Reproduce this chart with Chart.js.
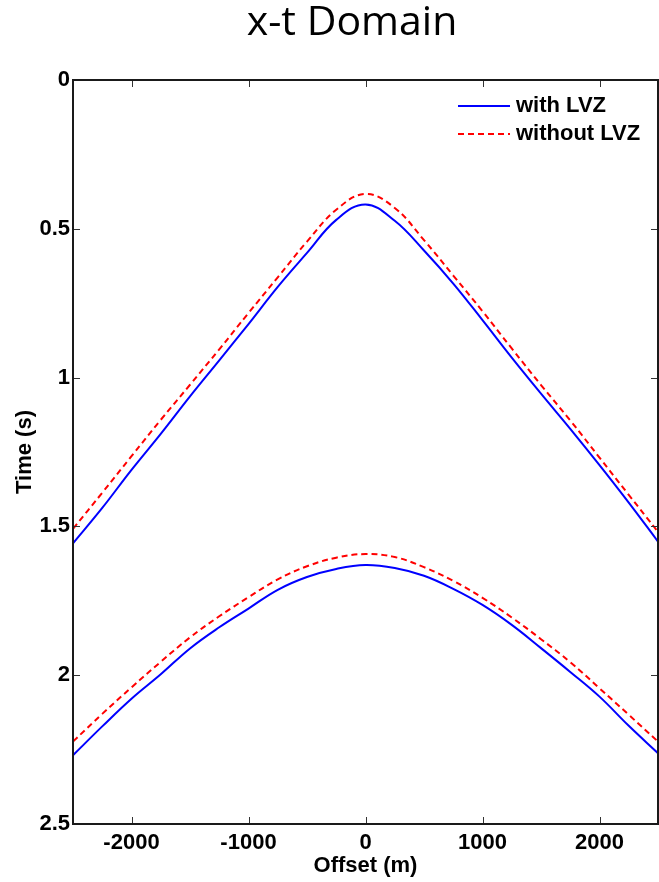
<!DOCTYPE html>
<html lang="en">
<head>
    <meta charset="UTF-8">
    <title>x-t Domain</title>
    <script src="https://cdn.jsdelivr.net/npm/chart.js"></script>
    <style>
        html, body { margin: 0; padding: 0; background: #fff; }
        #wrap { width: 659px; height: 882px; position: relative; }
    </style>
</head>
<body>
    <div id="wrap"><canvas id="myChart"></canvas></div>

    <script>
        // Offsets (m) where the travel times were read
        const offsets = [-2500, -2250, -2000, -1750, -1500, -1250, -1000, -750, -500, -250, 0,
                         250, 500, 750, 1000, 1250, 1500, 1750, 2000, 2250, 2500];

        // Travel times (s), with LVZ
        const withUpper = [1.557, 1.438, 1.310, 1.189, 1.063, 0.942, 0.820, 0.695, 0.581, 0.470, 0.418,
                           0.473, 0.573, 0.684, 0.807, 0.933, 1.054, 1.172, 1.294, 1.420, 1.551];
        const withLower = [2.269, 2.172, 2.079, 1.997, 1.910, 1.839, 1.776, 1.713, 1.670, 1.643, 1.630,
                           1.640, 1.666, 1.710, 1.764, 1.831, 1.909, 1.989, 2.072, 2.170, 2.262];

        // Travel times (s), without LVZ
        const withoutUpper = [1.508, 1.387, 1.264, 1.142, 1.024, 0.905, 0.783, 0.663, 0.543, 0.436, 0.383,
                              0.430, 0.538, 0.657, 0.777, 0.902, 1.025, 1.144, 1.269, 1.394, 1.518];
        const withoutLower = [2.223, 2.130, 2.041, 1.955, 1.873, 1.802, 1.738, 1.678, 1.634, 1.605, 1.593,
                              1.603, 1.637, 1.683, 1.740, 1.806, 1.879, 1.956, 2.044, 2.133, 2.223];

        const xTicks = [-2000, -1000, 0, 1000, 2000];
        const yTicks = [0, 0.5, 1, 1.5, 2, 2.5];
        const seriesLabels = ['with LVZ', 'without LVZ'];

        const toPoints = arr => arr.map((t, i) => ({ x: offsets[i], y: t }));
        const tickFont = { family: 'Liberation Sans, Arial, sans-serif', size: 22, weight: 'bold' };

        // frame, inner tick marks, title and legend
        const decorations = {
            id: 'decorations',
            afterDraw(chart) {
                const { ctx, chartArea: a, scales } = chart;
                ctx.save();

                // inward tick marks on all four sides
                ctx.strokeStyle = '#333';
                ctx.lineWidth = 1;
                ctx.beginPath();
                scales.x.ticks.forEach(t => {
                    const px = Math.round(scales.x.getPixelForValue(t.value)) + 0.5;
                    ctx.moveTo(px, a.bottom); ctx.lineTo(px, a.bottom - 7);
                    ctx.moveTo(px, a.top); ctx.lineTo(px, a.top + 7);
                });
                scales.y.ticks.forEach(t => {
                    const py = Math.round(scales.y.getPixelForValue(t.value)) + 0.5;
                    ctx.moveTo(a.left, py); ctx.lineTo(a.left + 7, py);
                    ctx.moveTo(a.right, py); ctx.lineTo(a.right - 7, py);
                });
                ctx.stroke();

                // box
                ctx.strokeStyle = '#1a1a1a';
                ctx.lineWidth = 2;
                ctx.strokeRect(a.left, a.top, a.right - a.left, a.bottom - a.top);

                // title
                ctx.fillStyle = '#000';
                ctx.font = '41px "Open Sans", sans-serif';
                ctx.textAlign = 'center';
                ctx.textBaseline = 'middle';
                ctx.fillText('x-t Domain', 352, 23);

                // legend
                ctx.font = 'bold 22px "Liberation Sans", Arial, sans-serif';
                ctx.textAlign = 'left';
                [0, 1].forEach((k, i) => {
                    const ds = chart.data.datasets[k];
                    const y = 106 + i * 28;
                    ctx.strokeStyle = ds.borderColor;
                    ctx.lineWidth = ds.borderWidth;
                    ctx.setLineDash(ds.borderDash || []);
                    ctx.beginPath();
                    ctx.moveTo(458, y); ctx.lineTo(510, y);
                    ctx.stroke();
                    ctx.setLineDash([]);
                    ctx.fillStyle = '#000';
                    ctx.fillText(seriesLabels[i], 516, y);
                });
                ctx.restore();
            }
        };

        const ctx = document.getElementById('myChart').getContext('2d');
        const chart = new Chart(ctx, {
            type: 'line',
            data: {
                datasets: [
                    { label: seriesLabels[0], data: toPoints(withUpper), borderColor: '#0000ff', borderWidth: 2 },
                    { label: seriesLabels[1], data: toPoints(withoutUpper), borderColor: '#ff0000', borderWidth: 2, borderDash: [6, 4] },
                    { label: seriesLabels[0], data: toPoints(withLower), borderColor: '#0000ff', borderWidth: 2 },
                    { label: seriesLabels[1], data: toPoints(withoutLower), borderColor: '#ff0000', borderWidth: 2, borderDash: [6, 4] }
                ]
            },
            options: {
                responsive: true,
                maintainAspectRatio: false,
                animation: false,
                events: [],
                layout: { padding: { top: 80, right: 1, left: 0, bottom: 0 } },
                elements: {
                    point: { radius: 0 },
                    line: { tension: 0.4, fill: false }
                },
                plugins: {
                    legend: { display: false },
                    title: { display: false },
                    tooltip: { enabled: false }
                },
                scales: {
                    x: {
                        type: 'linear',
                        min: -2500,
                        max: 2500,
                        grid: { display: false, drawTicks: false },
                        border: { display: false },
                        afterBuildTicks: s => { s.ticks = xTicks.map(v => ({ value: v })); },
                        afterFit: s => { s.height = 58; },
                        ticks: { color: '#000', font: tickFont, padding: 6, maxRotation: 0, callback: v => String(v) },
                        title: { display: true, text: 'Offset (m)', color: '#000', font: tickFont, padding: { top: 0, bottom: 3 } }
                    },
                    y: {
                        type: 'linear',
                        reverse: true,
                        min: 0,
                        max: 2.5,
                        grid: { display: false, drawTicks: false },
                        border: { display: false },
                        afterBuildTicks: s => { s.ticks = yTicks.map(v => ({ value: v })); },
                        afterFit: s => { s.width = 73; },
                        ticks: { color: '#000', font: tickFont, padding: 3, callback: v => String(v) },
                        title: { display: true, text: 'Time (s)', color: '#000', font: tickFont, padding: { top: 12, bottom: 0 } }
                    }
                }
            },
            plugins: [decorations]
        });
    </script>
</body>
</html>
